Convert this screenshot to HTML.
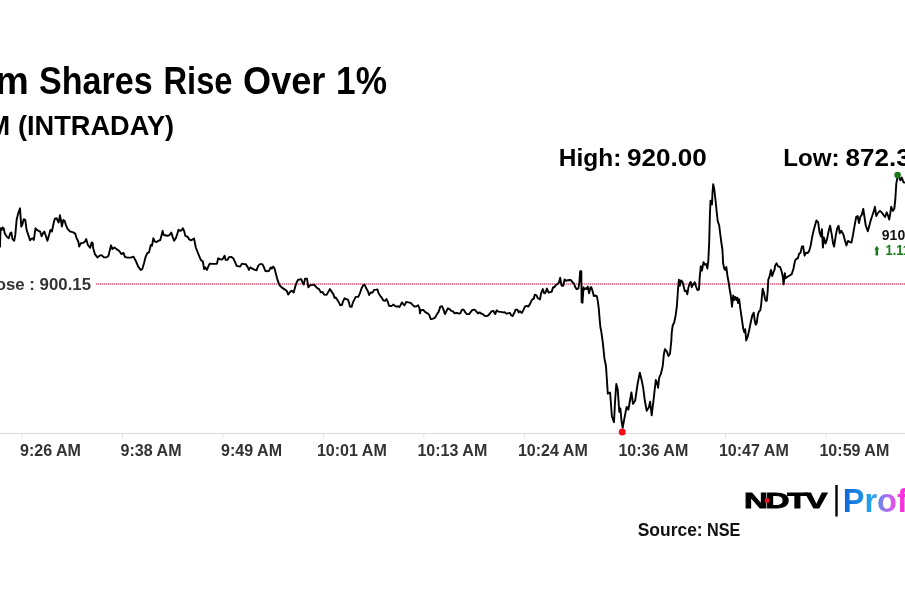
<!DOCTYPE html>
<html lang="en">
<head>
<meta charset="utf-8">
<title>Shares Rise Over 1%</title>
<style>
html,body{margin:0;padding:0;background:#fff;}
body{width:905px;height:613px;overflow:hidden;position:relative;}
svg{position:absolute;left:0;top:0;display:block;}
text{font-family:"Liberation Sans","DejaVu Sans",sans-serif;font-weight:bold;white-space:pre;}
</style>
</head>
<body>
<svg width="905" height="613" viewBox="0 0 905 613">
<defs>
<linearGradient id="pg" gradientUnits="userSpaceOnUse" x1="2.34" y1="0" x2="63.92" y2="0">
<stop offset="0" stop-color="#1268d8"/>
<stop offset="0.28" stop-color="#1b8ee8"/>
<stop offset="0.45" stop-color="#20a6ec"/>
<stop offset="0.58" stop-color="#6f84ea"/>
<stop offset="0.75" stop-color="#c566ee"/>
<stop offset="0.87" stop-color="#f23ce8"/>
<stop offset="1" stop-color="#ff2ad8"/>
</linearGradient>
</defs>
<rect x="0" y="0" width="905" height="613" fill="#fff"/>
<g stroke="#dadada" stroke-width="1" fill="none">
<line x1="0" y1="433.5" x2="905" y2="433.5" />
<g stroke="#e4e4e4"><line x1="21.9" y1="433.5" x2="21.9" y2="439" /><line x1="122.4" y1="433.5" x2="122.4" y2="439" /><line x1="222.9" y1="433.5" x2="222.9" y2="439" /><line x1="323.4" y1="433.5" x2="323.4" y2="439" /><line x1="423.9" y1="433.5" x2="423.9" y2="439" /><line x1="524.5" y1="433.5" x2="524.5" y2="439" /><line x1="625.0" y1="433.5" x2="625.0" y2="439" /><line x1="725.5" y1="433.5" x2="725.5" y2="439" /><line x1="826.0" y1="433.5" x2="826.0" y2="439" /></g>
</g>
<line x1="95.5" y1="284" x2="905" y2="284" stroke="#f9d3da" stroke-width="2" />
<line x1="96" y1="284" x2="905" y2="284" stroke="#dc6680" stroke-width="1.4" stroke-dasharray="1 1" />
<path d="M0.0,246.6 L0.5,228.3 L1.7,229.9 L2.5,227.4 L3.7,228.3 L4.7,233.3 L6.7,236.6 L8.7,238.3 L10.3,233.3 L11.3,232.4 L12.5,239.1 L14.2,240.8 L15.3,234.9 L16.6,220.0 L18.0,214.1 L20.0,208.3 L21.3,226.6 L22.5,224.1 L23.8,219.1 L25.3,220.0 L26.6,229.9 L28.3,234.9 L30.0,240.3 L31.6,238.6 L32.8,238.3 L33.8,239.9 L35.5,228.3 L37.0,229.9 L38.3,230.8 L40.0,231.3 L41.6,236.3 L42.9,233.3 L44.3,231.6 L45.8,235.8 L47.4,240.8 L49.1,234.9 L50.4,229.9 L51.9,231.6 L53.6,223.3 L54.9,218.6 L56.6,218.3 L58.6,222.5 L59.9,215.3 L60.9,220.0 L61.9,226.6 L63.3,220.0 L64.6,220.8 L65.8,224.6 L67.4,228.6 L69.9,231.3 L73.2,232.4 L75.2,233.6 L76.6,238.3 L78.2,241.3 L79.2,246.6 L80.7,243.3 L83.2,242.9 L84.9,241.6 L86.2,239.1 L87.9,244.9 L90.2,247.8 L91.6,242.4 L92.6,242.9 L93.2,248.3 L94.9,254.1 L97.4,257.4 L99.6,255.7 L101.5,255.2 L104.0,257.4 L106.5,257.4 L108.5,255.7 L109.9,249.9 L111.0,245.3 L112.4,249.1 L114.5,247.4 L116.5,249.1 L119.0,250.8 L121.5,254.1 L123.5,252.9 L124.9,256.9 L127.4,257.6 L130.7,257.6 L133.5,256.6 L135.7,260.7 L138.2,266.6 L140.7,269.9 L142.3,269.1 L144.0,263.2 L145.7,256.6 L147.3,253.2 L149.0,252.4 L150.8,245.0 L152.0,245.8 L153.3,238.3 L155.0,241.6 L156.6,242.0 L158.3,240.8 L160.3,240.0 L161.6,235.0 L162.6,230.8 L163.6,235.0 L165.0,235.3 L167.5,235.8 L169.6,235.0 L171.3,232.5 L172.6,236.6 L174.1,240.8 L175.8,238.3 L177.5,233.3 L178.6,229.6 L180.0,230.8 L181.6,230.3 L182.9,228.3 L184.1,230.8 L185.3,235.8 L187.4,236.6 L189.1,239.1 L190.8,240.3 L192.4,239.6 L194.1,238.6 L195.8,247.5 L197.4,251.6 L199.1,255.8 L200.8,259.9 L202.9,261.6 L204.1,269.1 L205.3,267.4 L206.9,269.9 L208.6,265.8 L209.9,263.6 L213.2,263.9 L216.9,263.8 L218.2,258.3 L219.9,259.1 L221.9,259.6 L223.2,258.3 L224.6,255.8 L225.7,259.9 L227.4,259.9 L229.1,257.1 L231.2,256.9 L233.2,258.3 L234.9,261.6 L236.6,265.8 L238.6,266.3 L240.2,266.6 L241.9,263.6 L244.0,264.1 L245.7,264.1 L247.4,266.6 L249.0,269.9 L250.2,267.4 L252.4,268.6 L254.9,269.9 L256.5,270.3 L258.2,265.8 L259.9,264.1 L262.4,264.1 L264.0,267.4 L265.2,270.8 L267.4,271.3 L269.0,270.8 L270.7,267.4 L271.8,268.6 L273.2,266.6 L274.5,268.3 L275.7,272.9 L277.3,279.1 L279.0,284.1 L280.0,285.8 L281.7,287.4 L284.2,289.1 L286.7,290.8 L288.3,294.6 L290.0,291.9 L291.7,290.8 L293.7,292.4 L295.0,287.4 L296.6,282.5 L298.3,279.6 L301.3,279.3 L302.5,282.5 L303.8,284.6 L305.0,278.6 L307.0,278.6 L308.3,287.4 L310.0,285.3 L312.5,284.9 L314.1,284.6 L315.8,286.6 L317.5,288.3 L319.1,289.1 L320.8,292.4 L322.5,291.9 L324.1,294.6 L326.6,294.9 L328.3,291.9 L329.9,289.1 L331.6,291.6 L333.3,294.1 L334.6,297.9 L335.8,297.4 L337.4,299.9 L339.1,302.9 L340.3,305.3 L341.9,304.9 L343.3,300.8 L344.6,298.3 L346.3,299.1 L347.9,299.6 L349.1,302.9 L349.9,306.6 L351.6,306.9 L352.9,302.4 L354.6,299.1 L355.7,296.9 L358.2,296.9 L359.9,293.3 L361.6,288.3 L363.2,285.3 L364.6,284.6 L366.2,288.3 L367.9,291.3 L369.1,294.9 L370.7,292.4 L372.4,292.9 L374.1,289.9 L376.2,289.6 L377.4,289.4 L378.6,293.3 L380.2,295.8 L381.9,297.9 L383.2,300.3 L385.2,300.8 L386.5,299.1 L387.9,301.9 L389.0,305.8 L391.5,306.1 L393.2,304.6 L394.9,305.8 L396.5,306.6 L398.2,306.3 L399.5,306.9 L400.7,304.9 L401.9,302.4 L403.2,304.1 L404.5,305.4 L406.2,301.9 L408.2,302.4 L410.7,302.9 L412.3,304.6 L414.5,306.6 L416.5,306.3 L418.2,305.3 L419.5,308.3 L420.0,313.3 L420.8,310.3 L423.3,309.9 L425.0,311.9 L427.5,313.3 L429.2,314.9 L430.8,319.1 L433.3,318.6 L435.3,317.4 L437.0,314.1 L438.6,311.9 L440.3,306.6 L442.0,306.1 L443.3,309.1 L445.0,314.1 L446.6,310.8 L448.0,308.3 L449.6,309.1 L451.3,310.8 L453.0,311.3 L454.6,313.3 L457.0,312.9 L458.6,313.6 L460.3,313.3 L462.0,309.6 L463.6,309.6 L465.3,312.4 L466.9,314.1 L469.1,314.1 L470.8,311.9 L472.4,309.9 L474.6,309.6 L476.3,311.3 L477.9,313.3 L479.6,312.4 L481.3,313.6 L482.9,314.1 L484.6,315.8 L486.6,316.1 L488.3,315.3 L489.9,313.3 L491.6,311.3 L493.2,310.8 L495.2,314.1 L496.6,310.3 L498.2,311.6 L500.7,311.9 L503.2,312.4 L504.9,312.3 L506.2,313.6 L508.2,313.3 L509.9,312.9 L511.2,315.3 L512.6,316.1 L514.1,313.3 L515.7,309.6 L517.4,309.6 L518.6,312.4 L519.9,311.3 L521.9,312.9 L523.5,309.9 L524.9,306.6 L526.5,305.8 L528.2,306.6 L529.9,304.1 L531.2,301.3 L532.4,299.1 L533.5,299.1 L534.9,294.6 L536.5,295.3 L537.9,298.3 L539.0,298.6 L540.0,299.4 L541.1,293.3 L542.8,289.1 L544.2,293.3 L545.5,292.7 L546.9,288.6 L548.7,292.7 L550.2,292.2 L551.7,291.6 L553.1,287.2 L554.4,287.2 L555.8,285.0 L557.2,284.2 L558.9,282.8 L560.2,277.8 L561.6,285.7 L563.3,285.7 L564.6,279.4 L566.1,280.9 L567.7,280.2 L569.4,280.0 L571.1,280.3 L572.4,282.2 L573.9,283.5 L575.3,287.2 L576.6,289.1 L578.3,288.6 L579.4,282.2 L580.2,271.1 L581.3,271.1 L581.6,302.2 L582.5,302.7 L583.5,287.2 L584.2,289.7 L585.5,288.3 L586.6,288.9 L587.7,286.6 L589.1,293.3 L590.5,287.2 L591.3,287.2 L592.4,290.5 L593.8,296.1 L595.5,295.5 L596.8,296.1 L597.9,301.6 L598.8,308.8 L599.7,319.9 L600.5,328.0 L601.0,329.7 L602.8,342.3 L604.4,358.2 L606.0,366.2 L607.8,393.6 L610.1,392.5 L611.9,416.5 L614.0,422.2 L615.1,400.5 L616.3,384.0 L617.7,389.1 L619.3,411.9 L620.4,408.5 L621.5,421.0 L622.7,427.9 L624.3,418.8 L626.6,406.9 L628.4,409.6 L630.0,400.5 L631.4,392.5 L633.0,403.9 L635.2,400.5 L637.5,384.5 L639.8,372.6 L641.6,379.9 L643.2,387.9 L644.8,400.5 L646.7,410.8 L648.9,407.3 L650.1,401.6 L651.7,415.3 L653.5,400.5 L655.8,379.9 L656.9,382.2 L658.1,387.9 L659.2,377.7 L660.8,374.2 L662.7,366.2 L663.8,354.8 L664.9,349.1 L666.8,351.4 L668.4,356.0 L670.0,353.7 L671.3,341.1 L671.7,333.0 L672.7,325.5 L674.2,322.5 L675.7,315.0 L676.9,306.0 L678.0,289.5 L678.9,279.7 L679.8,285.7 L681.0,280.5 L682.5,282.0 L683.7,286.5 L684.7,291.0 L686.2,290.7 L687.3,294.3 L688.5,287.2 L690.0,282.7 L690.7,282.0 L691.8,287.2 L693.3,284.2 L694.8,282.3 L696.0,286.5 L697.5,290.2 L699.0,289.5 L699.7,277.5 L700.8,266.2 L702.0,270.7 L703.5,262.2 L705.0,264.7 L706.2,264.0 L707.4,268.5 L708.3,261.0 L709.2,242.0 L709.9,215.0 L710.5,200.7 L711.7,200.7 L712.0,204.5 L712.5,192.5 L713.2,184.2 L714.3,189.5 L715.5,200.0 L716.7,212.0 L717.7,221.0 L719.2,225.5 L720.3,234.5 L721.5,243.5 L722.4,249.5 L723.0,260.0 L723.0,262.5 L724.2,268.5 L725.2,270.0 L726.3,267.0 L727.5,276.0 L728.7,282.7 L729.7,289.5 L730.8,295.5 L732.0,306.7 L733.2,295.5 L734.2,300.0 L735.3,297.0 L736.5,300.0 L737.2,297.7 L738.0,303.0 L739.2,299.2 L740.2,307.5 L741.7,318.0 L743.2,328.5 L744.3,332.2 L745.2,329.2 L746.2,340.5 L747.7,336.7 L749.2,330.0 L750.7,322.5 L752.2,315.7 L753.7,312.7 L754.8,321.0 L755.7,324.7 L756.7,323.2 L757.8,315.0 L759.0,311.2 L760.2,310.5 L761.2,304.5 L762.0,295.5 L762.7,288.7 L763.8,292.5 L765.0,298.5 L765.7,300.7 L766.8,300.7 L767.7,291.0 L768.3,279.7 L769.5,276.7 L771.0,270.0 L772.2,276.0 L773.2,273.0 L774.7,269.2 L775.0,265.9 L776.6,263.3 L778.1,266.3 L780.1,267.0 L781.5,271.0 L782.7,276.1 L783.6,284.3 L784.8,273.1 L785.6,278.2 L787.6,276.7 L789.7,275.5 L791.7,274.1 L793.4,269.0 L795.0,260.8 L796.4,258.8 L797.8,258.4 L799.1,253.7 L800.5,252.7 L801.9,246.6 L803.1,246.2 L804.6,255.7 L806.0,252.7 L807.6,253.1 L809.3,250.6 L810.7,245.5 L812.1,237.4 L813.7,230.3 L815.4,224.1 L816.4,220.5 L818.2,222.5 L819.5,232.3 L820.9,236.4 L821.9,229.2 L822.9,247.6 L823.9,237.4 L825.6,243.5 L827.0,239.4 L828.4,232.3 L830.1,225.6 L831.7,234.3 L833.1,243.5 L834.1,246.6 L835.8,235.4 L837.2,228.2 L838.6,225.8 L839.8,233.3 L841.3,230.7 L843.3,234.3 L844.7,239.4 L846.4,245.5 L848.0,240.9 L850.0,242.1 L851.5,242.5 L852.9,235.4 L854.5,226.2 L856.2,217.0 L857.6,216.0 L859.0,223.1 L860.2,217.0 L861.7,215.0 L863.3,208.8 L864.3,216.0 L865.7,225.2 L867.8,231.3 L869.2,226.2 L870.8,220.1 L872.5,215.0 L873.9,210.9 L874.9,206.8 L876.3,216.0 L878.0,212.9 L880.0,210.9 L882.1,212.9 L883.5,215.0 L885.1,217.0 L886.7,212.3 L888.2,216.0 L889.2,219.6 L890.2,213.9 L891.2,206.8 L892.9,210.9 L894.3,208.8 L895.3,199.7 L896.3,183.4 L897.3,178.3 L898.4,175.2 L900.4,180.3 L901.8,177.6 L903.5,182.3 L906.5,182.9" fill="none" stroke="#000" stroke-width="1.9" stroke-linejoin="round" stroke-linecap="round" />
<circle cx="622.2" cy="432" r="3.5" fill="#f0101a" />
<circle cx="897.6" cy="175" r="3.3" fill="#1a7a1a" />
<path d="M874.3 249.4 L876.8 245.7 L879.3 249.4 L878.1 249.4 L878.1 255.6 L875.5 255.6 L875.5 249.4 Z" fill="#1b7a1b" />
<rect x="835.3" y="485" width="2.4" height="31.5" fill="#000" />
<text id="t0" transform="translate(-4.69 93.60) scale(0.9922 1)" font-size="38" fill="#000">m</text>
<text id="t1" transform="translate(39.02 93.60) scale(0.8969 1)" font-size="38" fill="#000">Shares</text>
<text id="t2" transform="translate(163.51 93.60) scale(0.8596 1)" font-size="38" fill="#000">Rise</text>
<text id="t3" transform="translate(243.12 93.60) scale(0.9505 1)" font-size="38" fill="#000">Over</text>
<text id="t4" transform="translate(336.08 93.60) scale(0.9277 1)" font-size="38" fill="#000">1%</text>
<text id="s0" transform="translate(-12.55 134.80) scale(1.0078 1)" font-size="27" fill="#000">M</text>
<text id="s1" transform="translate(17.94 134.80) scale(1.0078 1)" font-size="27" fill="#000">(INTRADAY)</text>
<text id="h0" transform="translate(558.86 165.70) scale(1.0192 1)" font-size="24" fill="#000">High:</text>
<text id="h1" transform="translate(627.00 165.70) scale(1.0867 1)" font-size="24" fill="#000">920.00</text>
<text id="l0" transform="translate(783.28 165.70) scale(1.0083 1)" font-size="24" fill="#000">Low:</text>
<text id="l1" transform="translate(845.57 165.70) scale(1.0859 1)" font-size="24" fill="#000">872.3</text>
<text id="pv" transform="translate(-4.26 289.80) scale(1.0189 1)" font-size="16.5" fill="#333">ose : 900.15</text>
<text id="src0" transform="translate(637.70 535.90) scale(0.9696 1)" font-size="18" fill="#111">Source:</text>
<text id="src1" transform="translate(707.12 535.90) scale(0.9002 1)" font-size="18" fill="#111">NSE</text>
<text id="lp" transform="translate(881.81 240.20) scale(1.0002 1)" font-size="14" fill="#151515">910</text>
<text id="ch" transform="translate(885.49 255.30) scale(0.9181 1)" font-size="14" fill="#1b7a1b">1.11%</text>
<text transform="translate(20.04 455.7) scale(0.9741 1)" font-size="16.5" fill="#333">9:26 AM</text>
<text transform="translate(120.55 455.7) scale(0.9741 1)" font-size="16.5" fill="#333">9:38 AM</text>
<text transform="translate(221.06 455.7) scale(0.9741 1)" font-size="16.5" fill="#333">9:49 AM</text>
<text transform="translate(316.88 455.7) scale(0.9741 1)" font-size="16.5" fill="#333">10:01 AM</text>
<text transform="translate(417.39 455.7) scale(0.9741 1)" font-size="16.5" fill="#333">10:13 AM</text>
<text transform="translate(517.90 455.7) scale(0.9741 1)" font-size="16.5" fill="#333">10:24 AM</text>
<text transform="translate(618.41 455.7) scale(0.9741 1)" font-size="16.5" fill="#333">10:36 AM</text>
<text transform="translate(718.92 455.7) scale(0.9741 1)" font-size="16.5" fill="#333">10:47 AM</text>
<text transform="translate(819.43 455.7) scale(0.9741 1)" font-size="16.5" fill="#333">10:59 AM</text>
<text id="ndtv" transform="translate(743.94 508.3) scale(1.4708 1)" font-size="22.6" letter-spacing="-1.6" fill="#000" stroke="#000" stroke-width="0.9" stroke-linejoin="miter">NDTV</text>
<circle cx="767.1" cy="500.6" r="2.5" fill="#e8121e" />
<text id="profit" transform="translate(842.72 512) scale(0.9743 1)" font-size="33.4" fill="url(#pg)">Profit</text>
</svg>
</body>
</html>
